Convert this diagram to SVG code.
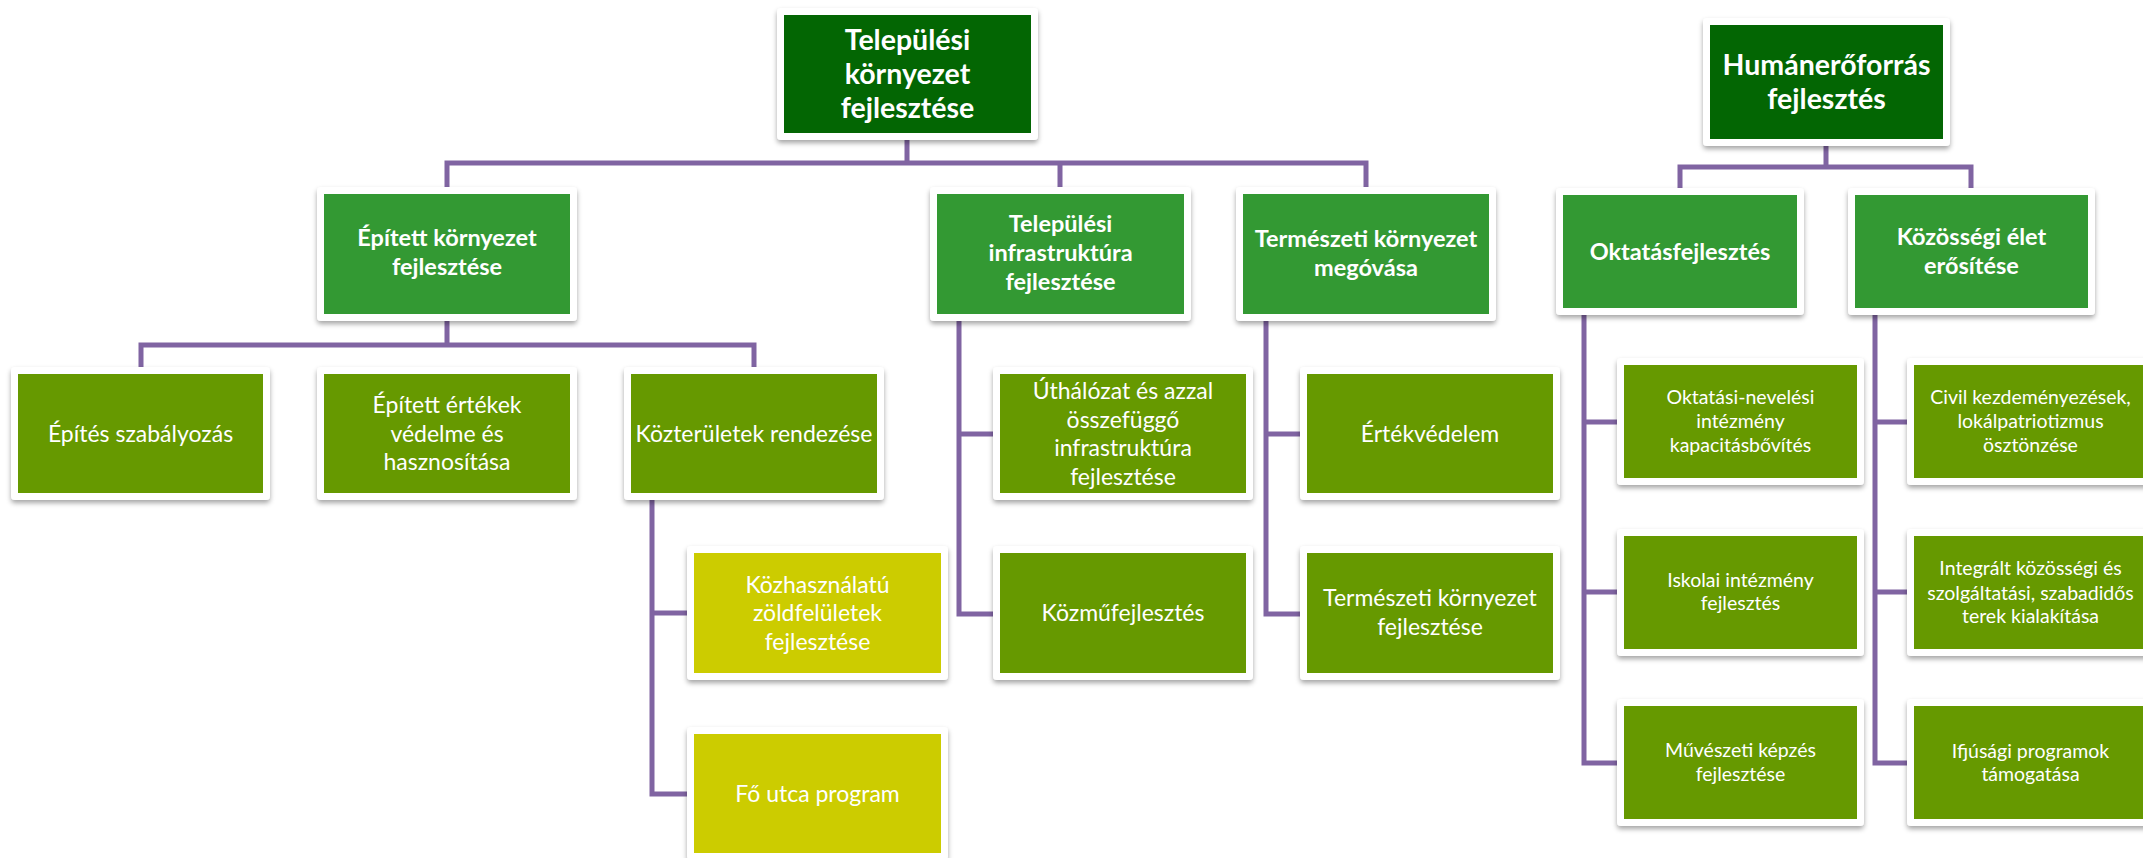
<svg xmlns="http://www.w3.org/2000/svg" width="2143" height="858" viewBox="0 0 2143 858">
<defs>
<filter id="sh" x="-10%" y="-10%" width="120%" height="130%">
<feDropShadow dx="0" dy="3" stdDeviation="2.5" flood-color="#000" flood-opacity="0.35"/>
</filter>
<style>
.frame{fill:#fff;filter:url(#sh)}
.c0{fill:#036603}
.c1{fill:#339933}
.c2{fill:#669900}
.c3{fill:#cccc00}
text{font-family:Lato,"Open Sans","Liberation Sans",sans-serif;fill:#fff;text-anchor:middle}
.t0{font-size:28.5px;font-weight:bold}
.t1{font-size:23.5px;font-weight:bold}
.t2{font-size:23px}
.t3{font-size:19.5px}
.con{fill:none;stroke:#8064a2;stroke-width:5}
</style>
</defs>
<rect width="2143" height="858" fill="#fff"/>
<g id="connectors" class="con">
<path d="M907,140V163M447,187V163H1366V187M1060,163V187"/>
<path d="M447,321V345M141,367V345H754V367"/>
<path d="M652,500V794H690M652,613H690"/>
<path d="M959,321V614H996M959,434H996"/>
<path d="M1266,321V614H1303M1266,434H1303"/>
<path d="M1826,146V167M1680,188V167H1971V188"/>
<path d="M1584,315V763H1620M1584,422H1620M1584,592H1620"/>
<path d="M1875,315V763H1910M1875,422H1910M1875,592H1910"/>
</g>
<g id="n-telepulesi-kornyezet">
<rect class="frame" x="777" y="8" width="261" height="132" rx="4"/>
<rect class="c0" x="784" y="15" width="247" height="118"/>
<text class="t0"><tspan x="907.5" y="50">Települési</tspan><tspan x="907.5" y="84">környezet</tspan><tspan x="907.5" y="118">fejlesztése</tspan></text>
</g>
<g id="n-epitett-kornyezet">
<rect class="frame" x="317" y="187" width="260" height="134" rx="4"/>
<rect class="c1" x="324" y="194" width="246" height="120"/>
<text class="t1"><tspan x="447" y="246">Épített környezet</tspan><tspan x="447" y="275">fejlesztése</tspan></text>
</g>
<g id="n-infrastruktura">
<rect class="frame" x="930" y="187" width="261" height="134" rx="4"/>
<rect class="c1" x="937" y="194" width="247" height="120"/>
<text class="t1"><tspan x="1060.5" y="232">Települési</tspan><tspan x="1060.5" y="261">infrastruktúra</tspan><tspan x="1060.5" y="290">fejlesztése</tspan></text>
</g>
<g id="n-termeszeti-megovasa">
<rect class="frame" x="1236" y="187" width="260" height="134" rx="4"/>
<rect class="c1" x="1243" y="194" width="246" height="120"/>
<text class="t1"><tspan x="1366" y="247">Természeti környezet</tspan><tspan x="1366" y="276">megóvása</tspan></text>
</g>
<g id="n-epites-szabalyozas">
<rect class="frame" x="11" y="367" width="259" height="133" rx="4"/>
<rect class="c2" x="18" y="374" width="245" height="119"/>
<text class="t2" x="140.5" y="441.5">Építés szabályozás</text>
</g>
<g id="n-epitett-ertekek">
<rect class="frame" x="317" y="367" width="260" height="133" rx="4"/>
<rect class="c2" x="324" y="374" width="246" height="119"/>
<text class="t2"><tspan x="447" y="413">Épített értékek</tspan><tspan x="447" y="441.5">védelme és</tspan><tspan x="447" y="470">hasznosítása</tspan></text>
</g>
<g id="n-kozteruletek">
<rect class="frame" x="624" y="367" width="260" height="133" rx="4"/>
<rect class="c2" x="631" y="374" width="246" height="119"/>
<text class="t2" x="754" y="441.5">Közterületek rendezése</text>
</g>
<g id="n-uthalozat">
<rect class="frame" x="993" y="367" width="260" height="133" rx="4"/>
<rect class="c2" x="1000" y="374" width="246" height="119"/>
<text class="t2"><tspan x="1123" y="399">Úthálózat és azzal</tspan><tspan x="1123" y="427.5">összefüggő</tspan><tspan x="1123" y="456">infrastruktúra</tspan><tspan x="1123" y="484.5">fejlesztése</tspan></text>
</g>
<g id="n-ertekvedelem">
<rect class="frame" x="1300" y="367" width="260" height="133" rx="4"/>
<rect class="c2" x="1307" y="374" width="246" height="119"/>
<text class="t2" x="1430" y="441.5">Értékvédelem</text>
</g>
<g id="n-kozhasznalatu">
<rect class="frame" x="687" y="546" width="261" height="134" rx="4"/>
<rect class="c3" x="694" y="553" width="247" height="120"/>
<text class="t2"><tspan x="817.5" y="592.5">Közhasználatú</tspan><tspan x="817.5" y="621">zöldfelületek</tspan><tspan x="817.5" y="649.5">fejlesztése</tspan></text>
</g>
<g id="n-fo-utca">
<rect class="frame" x="687" y="727" width="261" height="133" rx="4"/>
<rect class="c3" x="694" y="734" width="247" height="119"/>
<text class="t2" x="817.5" y="801.5">Fő utca program</text>
</g>
<g id="n-kozmu">
<rect class="frame" x="993" y="546" width="260" height="134" rx="4"/>
<rect class="c2" x="1000" y="553" width="246" height="120"/>
<text class="t2" x="1123" y="621">Közműfejlesztés</text>
</g>
<g id="n-termeszeti-fejlesztese">
<rect class="frame" x="1300" y="546" width="260" height="134" rx="4"/>
<rect class="c2" x="1307" y="553" width="246" height="120"/>
<text class="t2"><tspan x="1430" y="606">Természeti környezet</tspan><tspan x="1430" y="635">fejlesztése</tspan></text>
</g>
<g id="n-human">
<rect class="frame" x="1703" y="18" width="247" height="128" rx="4"/>
<rect class="c0" x="1710" y="25" width="233" height="114"/>
<text class="t0"><tspan x="1826.5" y="74.5">Humánerőforrás</tspan><tspan x="1826.5" y="108.5">fejlesztés</tspan></text>
</g>
<g id="n-oktatasfejlesztes">
<rect class="frame" x="1556" y="188" width="248" height="127" rx="4"/>
<rect class="c1" x="1563" y="195" width="234" height="113"/>
<text class="t1" x="1680" y="259.5">Oktatásfejlesztés</text>
</g>
<g id="n-kozossegi">
<rect class="frame" x="1848" y="188" width="247" height="127" rx="4"/>
<rect class="c1" x="1855" y="195" width="233" height="113"/>
<text class="t1"><tspan x="1971.5" y="245">Közösségi élet</tspan><tspan x="1971.5" y="274">erősítése</tspan></text>
</g>
<g id="n-oktatasi-nevelesi">
<rect class="frame" x="1617" y="358" width="247" height="127" rx="4"/>
<rect class="c2" x="1624" y="365" width="233" height="113"/>
<text class="t3"><tspan x="1740.5" y="404">Oktatási-nevelési</tspan><tspan x="1740.5" y="428">intézmény</tspan><tspan x="1740.5" y="452">kapacitásbővítés</tspan></text>
</g>
<g id="n-iskolai">
<rect class="frame" x="1617" y="529" width="247" height="127" rx="4"/>
<rect class="c2" x="1624" y="536" width="233" height="113"/>
<text class="t3"><tspan x="1740.5" y="587">Iskolai intézmény</tspan><tspan x="1740.5" y="610">fejlesztés</tspan></text>
</g>
<g id="n-muveszeti">
<rect class="frame" x="1617" y="699" width="247" height="127" rx="4"/>
<rect class="c2" x="1624" y="706" width="233" height="113"/>
<text class="t3"><tspan x="1740.5" y="757">Művészeti képzés</tspan><tspan x="1740.5" y="781">fejlesztése</tspan></text>
</g>
<g id="n-civil">
<rect class="frame" x="1907" y="358" width="247" height="127" rx="4"/>
<rect class="c2" x="1914" y="365" width="233" height="113"/>
<text class="t3"><tspan x="2030.5" y="404">Civil kezdeményezések,</tspan><tspan x="2030.5" y="428">lokálpatriotizmus</tspan><tspan x="2030.5" y="452">ösztönzése</tspan></text>
</g>
<g id="n-integralt">
<rect class="frame" x="1907" y="529" width="247" height="127" rx="4"/>
<rect class="c2" x="1914" y="536" width="233" height="113"/>
<text class="t3"><tspan x="2030.5" y="575">Integrált közösségi és</tspan><tspan x="2030.5" y="600">szolgáltatási, szabadidős</tspan><tspan x="2030.5" y="623">terek kialakítása</tspan></text>
</g>
<g id="n-ifjusagi">
<rect class="frame" x="1907" y="699" width="247" height="127" rx="4"/>
<rect class="c2" x="1914" y="706" width="233" height="113"/>
<text class="t3"><tspan x="2030.5" y="758">Ifjúsági programok</tspan><tspan x="2030.5" y="781">támogatása</tspan></text>
</g>
</svg>
